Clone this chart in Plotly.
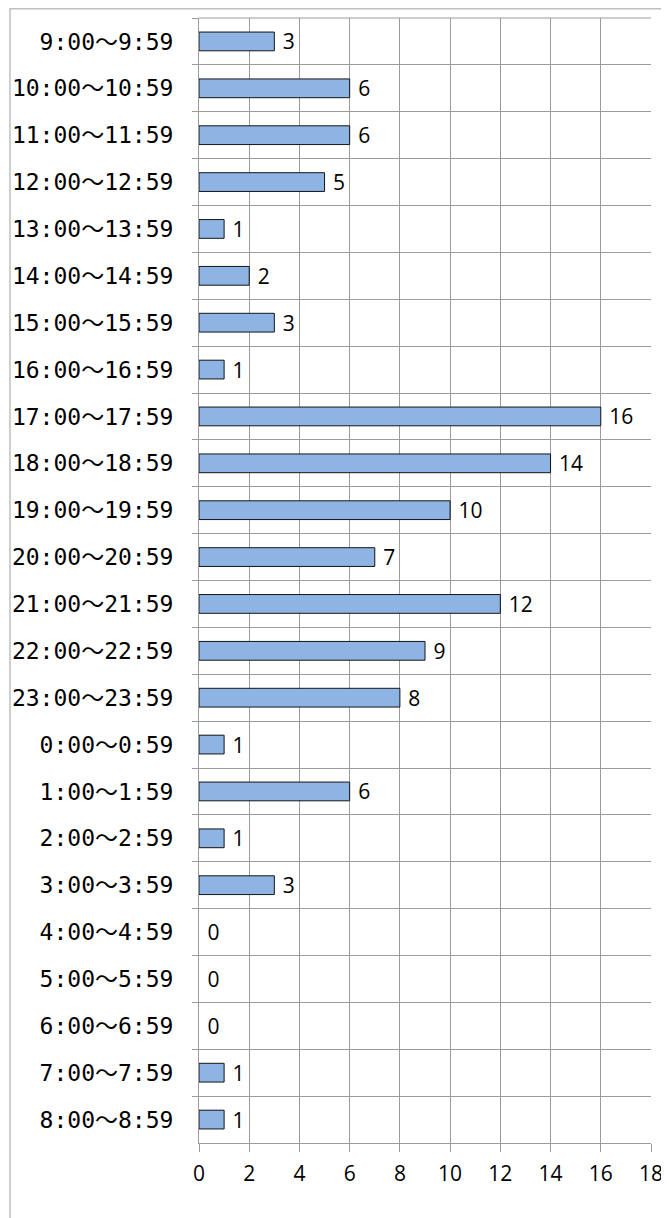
import plotly.graph_objects as go

categories = [
    "9:00～9:59", "10:00～10:59", "11:00～11:59", "12:00～12:59",
    "13:00～13:59", "14:00～14:59", "15:00～15:59", "16:00～16:59",
    "17:00～17:59", "18:00～18:59", "19:00～19:59", "20:00～20:59",
    "21:00～21:59", "22:00～22:59", "23:00～23:59", "0:00～0:59",
    "1:00～1:59", "2:00～2:59", "3:00～3:59", "4:00～4:59",
    "5:00～5:59", "6:00～6:59", "7:00～7:59", "8:00～8:59",
]
values = [3, 6, 6, 5, 1, 2, 3, 1, 16, 14, 10, 7, 12, 9, 8, 1, 6, 1, 3, 0, 0, 0, 1, 1]
x_ticks = [0, 2, 4, 6, 8, 10, 12, 14, 16, 18]

# page has an 8px body margin, so the figure is sized to end at the window edge
W, H = 661, 1210
ML, MR, MT, MB = 191, 18, 10, 75
PW, PH = W - ML - MR, H - MT - MB

grid = "#9C9C9C"
num_font = dict(family="Open Sans, Noto Sans, sans-serif", size=21, color="#000000")

fig = go.Figure(go.Bar(
    y=categories, x=values, orientation="h",
    width=0.4,
    marker=dict(color="#8DB4E2",
                line=dict(color="#141414", width=[0 if v == 0 else 1 for v in values])),
    text=[" " + str(v) for v in values], textposition="outside",
    constraintext="none",
    textfont=num_font,
    cliponaxis=False,
))

fig.update_layout(
    width=W, height=H,
    margin=dict(l=ML, r=MR, t=MT, b=MB),
    paper_bgcolor="white", plot_bgcolor="white",
    showlegend=False,
    xaxis=dict(
        range=[0, 18], tickvals=x_ticks, ticktext=[str(t) for t in x_ticks],
        showgrid=True, gridcolor=grid, gridwidth=1,
        showline=True, linecolor=grid, linewidth=1,
        ticks="outside", ticklen=8, tickcolor=grid,
        ticklabelstandoff=4,
        tickfont=num_font,
        zeroline=False, fixedrange=True, automargin=False,
    ),
    yaxis=dict(
        type="category", categoryorder="array", categoryarray=categories,
        range=[23.5, -0.5],
        tickson="boundaries", showgrid=True, gridcolor=grid, gridwidth=1,
        showline=True, linecolor=grid, linewidth=1,
        ticks="outside", ticklen=6, tickcolor=grid,
        ticklabelstandoff=20,
        tickfont=dict(family="DejaVu Sans Mono, Noto Sans CJK JP, monospace", size=23, color="#000000"),
        fixedrange=True, automargin=False,
    ),
    bargap=0.6,
    shapes=[dict(
        type="line", xref="paper", yref="paper", x0=0, x1=1, y0=1, y1=1,
        line=dict(color=grid, width=1),
    )],
)

# outer chart border
fig.add_shape(
    type="rect", xref="paper", yref="paper",
    x0=(2 - ML) / PW, x1=(W + 20 - ML) / PW,
    y0=-(MB + 20) / PH, y1=1 + (MT - 0.8) / PH,
    line=dict(color="#C0C0C0", width=1.5), fillcolor="rgba(0,0,0,0)", layer="below",
)

fig.write_html("out.html")
